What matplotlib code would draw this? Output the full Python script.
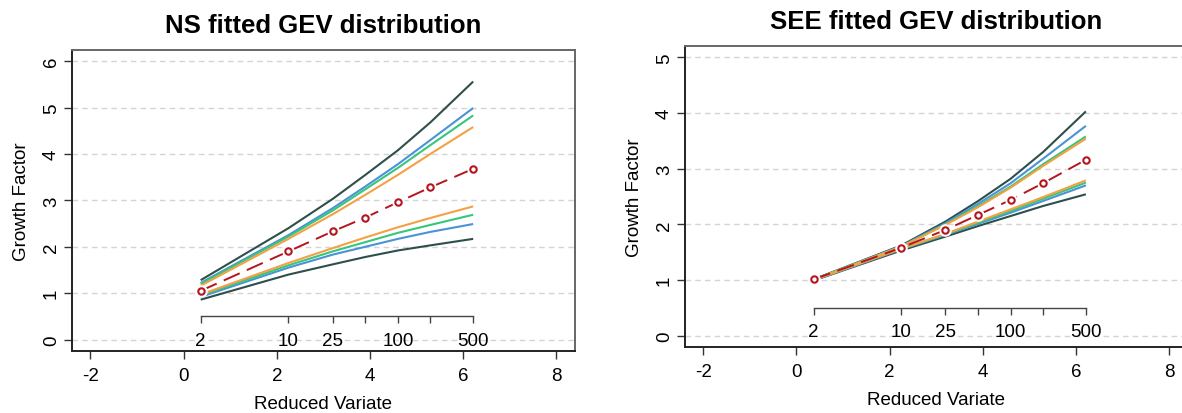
"""
Growth curves for the NS and SEE regions: fitted GEV growth factor against
Gumbel reduced variate, with return-period scale drawn inside the plot.
"""

import numpy as np
import matplotlib.pyplot as plt

plt.rcParams["font.family"] = ["Liberation Sans", "DejaVu Sans"]
plt.rcParams["axes.unicode_minus"] = False

# ── data ──────────────────────────────────────────────────────────────────────
return_periods = [2, 10, 25, 50, 100, 200, 500]
rp_labels      = ["2", "10", "25", "", "100", "", "500"]
reduced_var    = [0.367, 2.250, 3.199, 3.902, 4.600, 5.296, 6.214]

# NS region: bands (upper/lower) plus fitted median
ns_dark_hi   = [1.28, 2.40, 3.03, 3.55, 4.08, 4.68, 5.56]
ns_blue_hi   = [1.22, 2.25, 2.83, 3.30, 3.78, 4.30, 4.99]
ns_green_hi  = [1.20, 2.22, 2.78, 3.24, 3.70, 4.19, 4.83]
ns_orange_hi = [1.16, 2.17, 2.70, 3.12, 3.55, 4.00, 4.58]
ns_fit       = [1.05, 1.90, 2.33, 2.63, 2.96, 3.28, 3.68]
ns_orange_lo = [0.97, 1.65, 1.97, 2.20, 2.42, 2.62, 2.87]
ns_green_lo  = [0.95, 1.60, 1.90, 2.10, 2.30, 2.47, 2.69]
ns_blue_lo   = [0.92, 1.55, 1.83, 2.00, 2.17, 2.32, 2.49]
ns_dark_lo   = [0.86, 1.40, 1.62, 1.78, 1.92, 2.03, 2.17]

# SEE region
see_dark_hi   = [1.01, 1.62, 2.05, 2.42, 2.82, 3.30, 4.03]
see_blue_hi   = [1.01, 1.61, 2.02, 2.37, 2.74, 3.18, 3.77]
see_green_hi  = [1.01, 1.60, 2.00, 2.33, 2.68, 3.08, 3.58]
see_orange_hi = [1.00, 1.60, 1.99, 2.31, 2.66, 3.05, 3.54]
see_fit       = [1.01, 1.58, 1.90, 2.17, 2.44, 2.74, 3.16]
see_orange_lo = [1.00, 1.56, 1.83, 2.05, 2.27, 2.49, 2.79]
see_green_lo  = [1.00, 1.56, 1.82, 2.03, 2.24, 2.46, 2.75]
see_blue_lo   = [0.99, 1.55, 1.81, 2.01, 2.21, 2.42, 2.70]
see_dark_lo   = [0.99, 1.53, 1.78, 1.97, 2.15, 2.33, 2.54]

# ── colours ───────────────────────────────────────────────────────────────────
C_DARK   = "#2e4f4c"
C_BLUE   = "#4a93d6"
C_GREEN  = "#36c67c"
C_ORANGE = "#f4a044"
C_RED    = "#b5151f"
C_GRID   = "#d4d4d4"

FS = 13.5


def draw_panel(ax, title, ymax, bands, fit):
    x = np.array(reduced_var)
    for hi, lo, col in bands:
        ax.plot(x, hi, color=col, lw=1.5, solid_capstyle="butt", zorder=3)
        ax.plot(x, lo, color=col, lw=1.5, solid_capstyle="butt", zorder=3)

    # fitted curve: dashed line broken round open circles (R type="b")
    ax.plot(x, fit, color=C_RED, lw=1.4, dashes=(9, 4), zorder=4)
    ax.plot(x, fit, ls="none", marker="o", ms=8, mfc="white", mec="white", zorder=5)
    ax.plot(x, fit, ls="none", marker="o", ms=4.6, mfc="white", mec=C_RED,
            mew=1.5, zorder=6)

    # return-period scale at y = 0.5
    ax.plot([x[0], x[-1]], [0.5, 0.5], color="#444444", lw=1, zorder=2)
    ax.plot(x, [0.5] * len(x), ls="none", marker=3, ms=4.8, mew=1,
            color="#444444", zorder=2)
    for xv, lab in zip(x, rp_labels):
        ax.annotate(lab, (xv, 0.5), xytext=(0, -17.3), textcoords="offset points",
                    ha="center", va="center", fontsize=FS)

    ax.set_xlim(-2.4, 8.4)
    ax.set_ylim(-0.04 * ymax, ymax * 1.04)
    ax.set_xticks([-2, 0, 2, 4, 6, 8])
    ax.set_yticks(range(ymax + 1))
    ax.set_yticklabels([str(v) for v in range(ymax + 1)], rotation=90, va="center")
    ax.yaxis.grid(True, color=C_GRID, lw=1, dashes=(4, 3))
    ax.set_axisbelow(True)
    ax.tick_params(length=5.5, width=1, labelsize=FS, color="#333333", pad=3)
    ax.tick_params(axis="x", pad=6)
    for side in ("left", "bottom"):
        ax.spines[side].set_color("#222222")
        ax.spines[side].set_linewidth(1.4)
    for side in ("top", "right"):
        ax.spines[side].set_color("#666666")
        ax.spines[side].set_linewidth(1.4)
    ax.set_xlabel("Reduced Variate", fontsize=FS, labelpad=8)
    ax.set_ylabel("Growth Factor", fontsize=FS, labelpad=9)
    ax.set_title(title, fontsize=18.5, fontweight="bold", pad=13)


fig = plt.figure(figsize=(11.82, 4.14), dpi=100)
ax_ns  = fig.add_axes([0.0607, 0.1505, 0.4258, 0.7263])
ax_see = fig.add_axes([0.5793, 0.1601, 0.4255, 0.7256])

draw_panel(ax_ns, "NS fitted GEV distribution", 6,
           [(ns_dark_hi, ns_dark_lo, C_DARK), (ns_blue_hi, ns_blue_lo, C_BLUE),
            (ns_green_hi, ns_green_lo, C_GREEN), (ns_orange_hi, ns_orange_lo, C_ORANGE)],
           ns_fit)
draw_panel(ax_see, "SEE fitted GEV distribution", 5,
           [(see_dark_hi, see_dark_lo, C_DARK), (see_blue_hi, see_blue_lo, C_BLUE),
            (see_green_hi, see_green_lo, C_GREEN), (see_orange_hi, see_orange_lo, C_ORANGE)],
           see_fit)

fig.savefig("out.png", dpi=100)
plt.close(fig)
